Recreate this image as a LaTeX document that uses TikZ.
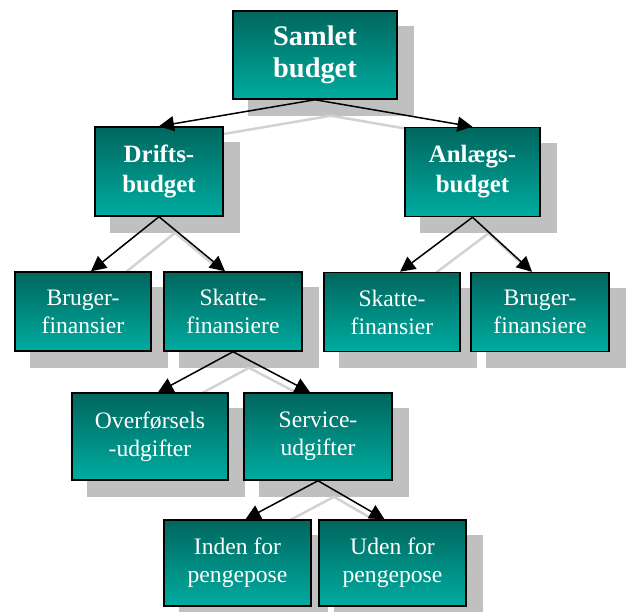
\documentclass[tikz,border=0pt]{standalone}
\usepackage{fontspec}
\setmainfont{Liberation Serif}
\usetikzlibrary{arrows.meta,backgrounds}
\definecolor{tealtop}{RGB}{0,102,94}
\definecolor{tealbot}{RGB}{0,172,160}
\definecolor{shadowgrey}{RGB}{192,192,192}
\definecolor{lineshadow}{RGB}{210,210,210}
\tikzset{
 box/.style={draw=black, line width=1.5bp, top color=tealtop, bottom color=tealbot, text=white, align=center, inner sep=0pt, minimum height=79bp},
 bigbox/.style={box, font=\bfseries\fontsize{28.5}{32}\selectfont, minimum height=88bp},
 midbox/.style={box, font=\bfseries\fontsize{25}{30}\selectfont, minimum height=89bp},
 smallbox/.style={box, font=\fontsize{23.7}{28}\selectfont},
 conn/.style={line width=1.5bp, -{Triangle[length=15bp,width=15bp]}},
 shline/.style={lineshadow, line width=2.5bp},
 shbox/.style={fill=shadowgrey},
}
\begin{document}
\begin{tikzpicture}[x=1bp,y=-1bp]
\useasboundingbox (0,0) rectangle (629,612);
% boxes
\node[bigbox, minimum width=164bp] (samlet) at (315,55) {Samlet\\budget};
\node[midbox, minimum width=128bp] (drifts) at (159,171.5) {Drifts-\\budget};
\node[midbox, minimum width=135bp] (anlaegs) at (472.5,172) {Anlægs-\\budget};
\node[smallbox, minimum width=136bp] (bf1) at (83,311.5) {Bruger-\\finansier};
\node[smallbox, minimum width=138bp] (sf1) at (233,311.5) {Skatte-\\finansiere};
\node[smallbox, minimum width=136bp] (sf2) at (392,312) {Skatte-\\finansier};
\node[smallbox, minimum width=138bp] (bf2) at (540,312) {Bruger-\\finansiere};
\node[smallbox, minimum width=156bp, minimum height=87bp] (over) at (150,436.5) {Overførsels\\-udgifter};
\node[smallbox, minimum width=148bp, minimum height=87bp] (serv) at (318,436.5) {Service-\\udgifter};
\node[smallbox, minimum width=147bp, minimum height=86bp] (inden) at (237.5,563) {Inden for\\pengepose};
\node[smallbox, minimum width=147bp, minimum height=86bp] (uden) at (392.5,563) {Uden for\\pengepose};
% shadows
\begin{scope}[on background layer]
\foreach \n in {samlet,drifts,anlaegs,bf1,sf1,sf2,bf2,over,serv,inden,uden}
  \fill[shbox] ([shift={(16bp,-16bp)}]\n.south west) rectangle ([shift={(16bp,-16bp)}]\n.north east);
\draw[shline] ([shift={(16bp,-16bp)}]samlet.south) -- ([shift={(16bp,-16bp)}]drifts.north);
\draw[shline] ([shift={(16bp,-16bp)}]samlet.south) -- ([shift={(16bp,-16bp)}]anlaegs.north);
\draw[shline] ([shift={(16bp,-16bp)}]drifts.south) -- ([shift={(24bp,-16bp)}]bf1.north);
\draw[shline] ([shift={(16bp,-16bp)}]drifts.south) -- ([shift={(8bp,-16bp)}]sf1.north);
\draw[shline] ([shift={(16bp,-16bp)}]anlaegs.south) -- ([shift={(24bp,-16bp)}]sf2.north);
\draw[shline] ([shift={(16bp,-16bp)}]anlaegs.south) -- ([shift={(8bp,-16bp)}]bf2.north);
\draw[shline] ([shift={(16bp,-16bp)}]sf1.south) -- ([shift={(24bp,-16bp)}]over.north);
\draw[shline] ([shift={(16bp,-16bp)}]sf1.south) -- ([shift={(8bp,-16bp)}]serv.north);
\draw[shline] ([shift={(16bp,-16bp)}]serv.south) -- ([shift={(24bp,-16bp)}]inden.north);
\draw[shline] ([shift={(16bp,-16bp)}]serv.south) -- ([shift={(8bp,-16bp)}]uden.north);
\end{scope}
% connectors
\draw[conn] (samlet.south) -- (drifts.north);
\draw[conn] (samlet.south) -- (anlaegs.north);
\draw[conn] (drifts.south) -- ([xshift=8bp]bf1.north);
\draw[conn] (drifts.south) -- ([xshift=-8bp]sf1.north);
\draw[conn] (anlaegs.south) -- ([xshift=8bp]sf2.north);
\draw[conn] (anlaegs.south) -- ([xshift=-8bp]bf2.north);
\draw[conn] (sf1.south) -- ([xshift=8bp]over.north);
\draw[conn] (sf1.south) -- ([xshift=-8bp]serv.north);
\draw[conn] (serv.south) -- ([xshift=8bp]inden.north);
\draw[conn] (serv.south) -- ([xshift=-8bp]uden.north);
\end{tikzpicture}
\end{document}
